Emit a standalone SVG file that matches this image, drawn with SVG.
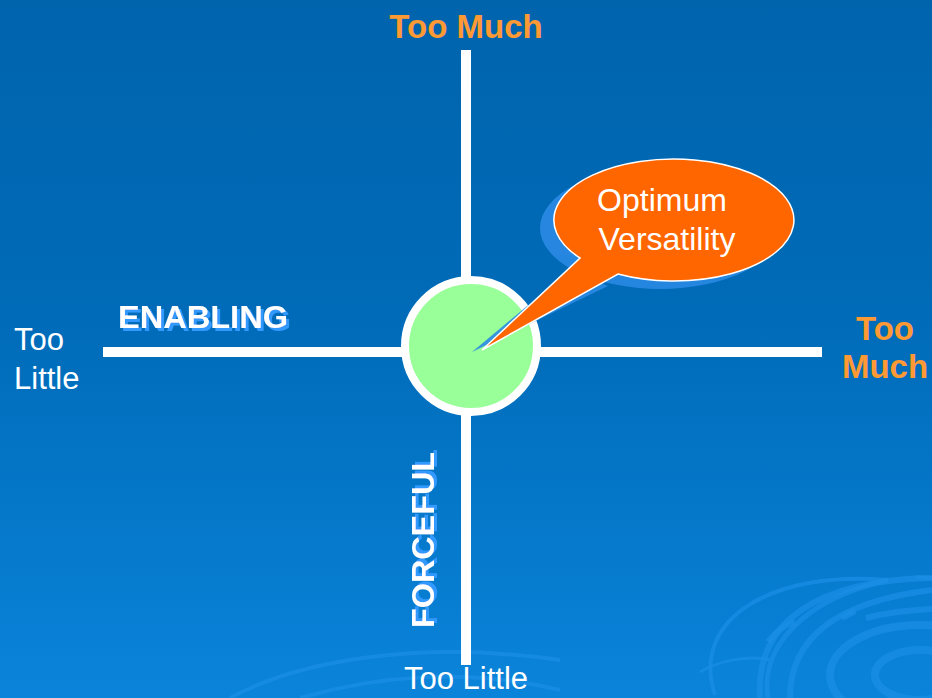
<svg xmlns="http://www.w3.org/2000/svg" width="932" height="698" viewBox="0 0 932 698">
<defs>
<linearGradient id="bg" x1="0" y1="0" x2="0" y2="1">
<stop offset="0" stop-color="#0064ad"/>
<stop offset="0.45" stop-color="#006bb8"/>
<stop offset="1" stop-color="#0a84da"/>
</linearGradient>
<filter id="sh" x="-10%" y="-10%" width="130%" height="140%">
<feFlood flood-color="#3399ff"/>
<feComposite in2="SourceAlpha" operator="in"/>
<feOffset dx="3" dy="3" result="s"/>
<feMerge><feMergeNode in="s"/><feMergeNode in="SourceGraphic"/></feMerge>
</filter>
<style>
.ax{stroke:#fff;stroke-width:10;fill:none}
.rip{fill:none;stroke:#1b8fe6;opacity:0.7}
.org{font-family:"Liberation Sans",Arial,sans-serif;font-weight:bold;fill:#ff9933}
.wt{font-family:"Liberation Sans",Arial,sans-serif;fill:#fff}
.bold{font-family:"Liberation Sans",Arial,sans-serif;font-weight:bold;fill:#fff}
</style>
</defs>
<rect width="932" height="698" fill="url(#bg)"/>
<g id="ripples">
<ellipse class="rip" cx="920" cy="675" rx="45" ry="25" stroke-width="8"/>
<ellipse class="rip" cx="920" cy="675" rx="90" ry="50" stroke-width="8"/>
<path class="rip" d="M790 698 C790 630 850 600 932 590" stroke-width="6"/>
<path class="rip" d="M760 698 C755 620 820 580 932 578" stroke-width="6"/>
<path class="rip" d="M768 642 C775 632 785 625 795 622" stroke-width="6"/>
<path class="rip" d="M842 618 L855 611" stroke-width="6"/>
<path class="rip" d="M866 618 C890 612 910 610 932 609" stroke-width="6"/>
<path class="rip" d="M768 698 C760 650 800 600 888 580" stroke-width="5" opacity="0.5"/>
<path class="rip" d="M715 695 C690 620 770 570 888 580" stroke-width="4" opacity="0.5"/>
<path class="rip" d="M916 577 L932 578" stroke-width="4"/>
<path class="rip" d="M230 698 C300 660 420 640 560 660" stroke-width="4" opacity="0.35"/>
<path class="rip" d="M300 698 C380 675 470 668 560 690" stroke-width="4" opacity="0.35"/>
<path class="rip" d="M700 672 C720 660 750 655 770 660" stroke-width="3" opacity="0.4"/>
</g>
<g id="connectors">
<line class="ax" x1="466" y1="50" x2="466" y2="665"/>
<line class="ax" x1="103" y1="352" x2="822" y2="352"/>
</g>
<g id="center">
<circle cx="471" cy="346" r="66" fill="#99ff99" stroke="#fff" stroke-width="8"/>
</g>
<g id="callout">
<g fill="#2a8ae4" opacity="0.9">
<ellipse cx="660" cy="228" rx="120" ry="61"/>
<path d="M570 270 L472 352 L608 286 Z"/>
</g>
<path d="M580 258 A120 61 0 1 1 618 274 L482 350 Z" fill="#ff6600" stroke="#fff" stroke-width="1.5" stroke-linejoin="miter"/>
<text class="wt" x="662" y="211" font-size="32" text-anchor="middle">Optimum</text>
<text class="wt" x="667" y="250" font-size="32" text-anchor="middle">Versatility</text>
</g>
<g id="label-top">
<text class="org" x="466" y="38" font-size="33" text-anchor="middle">Too Much</text>
</g>
<g id="label-right">
<text class="org" x="885" y="340" font-size="33" text-anchor="middle">Too</text>
<text class="org" x="885" y="378" font-size="33" text-anchor="middle">Much</text>
</g>
<g id="label-left">
<text class="wt" x="14" y="350" font-size="31">Too</text>
<text class="wt" x="14" y="389" font-size="31">Little</text>
</g>
<g id="label-bottom">
<text class="wt" x="466" y="689" font-size="31" text-anchor="middle">Too Little</text>
</g>
<g id="enabling">
<text class="bold" x="118" y="328" font-size="31" filter="url(#sh)" textLength="170" lengthAdjust="spacingAndGlyphs">ENABLING</text>
</g>
<g id="forceful">
<text class="bold" transform="translate(434 628) rotate(-90)" font-size="31" filter="url(#sh)" textLength="176" lengthAdjust="spacingAndGlyphs">FORCEFUL</text>
</g>
</svg>
